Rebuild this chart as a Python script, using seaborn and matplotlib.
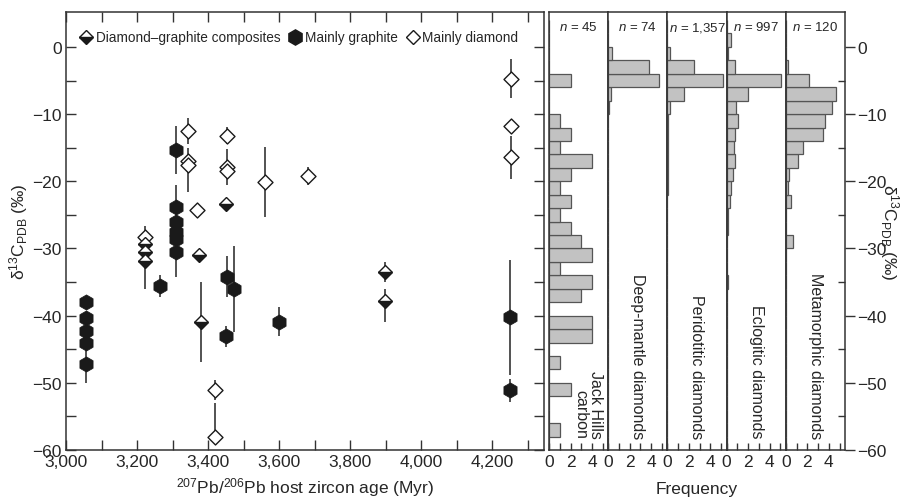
import numpy as np
import pandas as pd
import matplotlib
matplotlib.use('Agg')
import matplotlib.pyplot as plt
import seaborn as sns
from matplotlib.lines import Line2D

# --- scatter data: age (Myr), delta13C (permil), error bar ends (nan = none)
gr_age = [3056, 3056, 3056, 3056, 3056, 3265, 3310, 3310, 3310, 3310, 3310, 3310,
          3453, 3474, 3451, 3598, 4249, 4249]
gr_val = [-37.9, -40.4, -42.3, -44.0, -47.2, -35.6, -15.3, -23.9, -26.1, -27.6, -28.6, -30.6,
          -34.3, -36.0, -43.0, -40.9, -40.2, -51.1]
gr_lo = [np.nan, np.nan, np.nan, np.nan, -50.1, -37.2, -18.9, -26.0, np.nan, np.nan, np.nan, -34.3,
         -37.2, -42.4, -44.6, -43.0, -48.8, -52.9]
gr_hi = [np.nan, np.nan, np.nan, np.nan, -45.0, -33.9, -11.7, -20.5, np.nan, np.nan, np.nan, -28.0,
         -31.1, -29.6, -41.5, -38.7, -31.7, -49.4]

dm_age = [3223, 3343, 3343, 3343, 3370, 3453, 3453, 3453, 3559, 3680, 3420, 3420, 4251, 4251, 4251]
dm_val = [-28.3, -12.5, -17.0, -17.6, -24.2, -13.2, -17.9, -18.4, -20.1, -19.2, -51.0, -58.1,
          -4.8, -11.7, -16.4]
dm_lo = [np.nan, -14.5, np.nan, -21.6, np.nan, -14.5, np.nan, -20.6, -25.3, -20.6, -52.5, -58.1,
         -7.6, np.nan, -19.6]
dm_hi = [np.nan, -10.6, np.nan, -15.0, np.nan, -11.9, np.nan, -15.2, -14.9, -17.9, -49.6, -53.0,
         -1.8, np.nan, -13.2]

cp_age = [3223, 3223, 3223, 3375, 3380, 3450, 3897, 3897]
cp_val = [-29.3, -30.5, -31.8, -31.0, -41.0, -23.4, -33.5, -37.8]
cp_lo = [np.nan, np.nan, -36.0, np.nan, -46.9, np.nan, -35.0, -40.9]
cp_hi = [np.nan, np.nan, -26.6, np.nan, -35.0, np.nan, -32.0, -36.0]

# --- histograms: bin centres (2 permil bins) and frequencies
jh_bins = [-5, -11, -13, -15, -17, -19, -21, -23, -25, -27, -29, -31, -33, -35, -37, -41, -43, -47, -51, -57]
jh_freq = [2, 1, 2, 1, 4, 2, 1, 2, 1, 2, 3, 4, 1, 4, 3, 4, 4, 1, 2, 1]
deep_bins = [-1, -3, -5, -7, -9]
deep_freq = [0.37, 3.75, 4.76, 0.28, 0.12]
peri_bins = [-1, -3, -5, -7, -9, -11, -13, -15, -17, -19, -21]
peri_freq = [0.2, 2.46, 5.15, 1.54, 0.2, 0.06, 0.06, 0.08, 0.1, 0.06, 0.04]
eclo_bins = [1, -1, -3, -5, -7, -9, -11, -13, -15, -17, -19, -21, -23, -25, -27, -29, -31, -33, -35]
eclo_freq = [0.43, 0.1, 0.77, 5.1, 2.0, 0.86, 1.1, 0.77, 0.7, 0.77, 0.55, 0.37, 0.28, 0.15, 0.1,
             0.06, 0.05, 0.05, 0.1]
meta_bins = [-3, -5, -7, -9, -11, -13, -15, -17, -19, -21, -23, -29]
meta_freq = [0.25, 2.2, 4.7, 4.3, 3.6, 3.5, 1.6, 1.1, 0.3, 0.2, 0.5, 0.68]

panel_n = ['45', '74', '1,357', '997', '120']
panel_names = ['Jack Hills\ncarbon', 'Deep-mantle diamonds', 'Peridotitic diamonds',
               'Eclogitic diamonds', 'Metamorphic diamonds']

sns.set_theme(style='ticks')
plt.rcParams['font.family'] = ['Liberation Sans', 'DejaVu Sans']
plt.rcParams['mathtext.fontset'] = 'custom'
plt.rcParams['mathtext.rm'] = 'Liberation Sans'
plt.rcParams['mathtext.it'] = 'Liberation Sans:italic'
plt.rcParams['axes.edgecolor'] = '#333333'
plt.rcParams['axes.linewidth'] = 1.1

W, H = 901, 502
fig = plt.figure(figsize=(W / 100, H / 100), dpi=100)
bottom = 1 - 451 / H
height = 438 / H
ylim = (-60, 5.2)
ink = '#1a1a1a'

ax = fig.add_axes([66 / W, bottom, 478 / W, height])

for age, lo, hi in [(gr_age, gr_lo, gr_hi), (dm_age, dm_lo, dm_hi), (cp_age, cp_lo, cp_hi)]:
    a = np.array(age, float)
    l = np.array(lo, float)
    h = np.array(hi, float)
    ok = ~np.isnan(l)
    ax.vlines(a[ok], l[ok], h[ok], color='#444444', lw=1.3, zorder=1)

sns.scatterplot(x=gr_age, y=gr_val, marker='h', s=120, color=ink, edgecolor=ink,
                linewidth=0.5, ax=ax, zorder=3, legend=False)
sns.scatterplot(x=dm_age, y=dm_val, marker='D', s=58, facecolor='white', edgecolor=ink,
                linewidth=1.0, ax=ax, zorder=3, legend=False)
ax.plot(cp_age, cp_val, ls='none', marker='D', markersize=7.6, fillstyle='bottom',
        markerfacecolor=ink, markerfacecoloralt='white', markeredgecolor=ink,
        markeredgewidth=1.0, zorder=4)

ax.set_xlim(3000, 4345)
ax.set_ylim(*ylim)
xt = np.arange(3000, 4201, 200)
ax.set_xticks(xt)
ax.set_xticklabels([f'{v:,}' for v in xt])
ax.set_xticks(np.arange(3100, 4345, 200), minor=True)
ax.set_yticks(np.arange(-60, 1, 10))
ax.set_yticks(np.arange(-55, 5, 10), minor=True)
ax.tick_params(which='both', direction='in', top=True, right=True, length=7, width=1.0,
               labelsize=12.5, color='#333333', pad=3)
ax.set_xlabel(r'$^{207}$Pb/$^{206}$Pb host zircon age (Myr)', fontsize=12.5, labelpad=4)
ax.set_ylabel(r'δ$^{13}$C$_{\mathrm{PDB}}$ (‰)', fontsize=12.5, labelpad=2)

handles = [
    Line2D([], [], ls='none', marker='D', markersize=7.6, fillstyle='bottom',
           markerfacecolor=ink, markerfacecoloralt='white', markeredgecolor=ink,
           markeredgewidth=1.0),
    Line2D([], [], ls='none', marker='h', markersize=11, color=ink),
    Line2D([], [], ls='none', marker='D', markersize=7.6, markerfacecolor='white',
           markeredgecolor=ink, markeredgewidth=1.0),
]
ax.legend(handles, ['Diamond–graphite composites', 'Mainly graphite', 'Mainly diamond'],
          loc='upper left', bbox_to_anchor=(0.005, 0.98), ncol=3, frameon=False,
          fontsize=9.8, handletextpad=0.1, columnspacing=0.5, handlelength=1.2,
          borderaxespad=0.3)

hist_data = [(jh_bins, jh_freq), (deep_bins, deep_freq), (peri_bins, peri_freq),
             (eclo_bins, eclo_freq), (meta_bins, meta_freq)]
pw = 59.2
for i, (centres, freq) in enumerate(hist_data):
    hax = fig.add_axes([(549 + pw * i) / W, bottom, pw / W, height])
    df = pd.DataFrame({'d13c': centres, 'freq': freq})
    sns.histplot(data=df, y='d13c', weights='freq', binwidth=2, binrange=(-60, 4), ax=hax,
                 color='#c2c2c2', edgecolor='#555555', linewidth=0.9, alpha=1)
    hax.set_xlim(0, 5.5)
    hax.set_ylim(*ylim)
    hax.set_xlabel('')
    hax.set_ylabel('')
    hax.set_xticks([0, 2, 4])
    hax.set_xticks([1, 3, 5], minor=True)
    hax.tick_params(axis='x', which='both', direction='in', length=5, width=1.0,
                    labelsize=12.5, top=False, pad=3, color='#333333')
    hax.tick_params(axis='y', which='both', left=False, labelleft=False)
    hax.text(2.75, 3.0, r'$n$ = ' + panel_n[i], ha='center', va='center', fontsize=9.5)
    if i == 0:
        hax.text(3.65, -58.2, panel_names[i], rotation=270, ha='center', va='bottom',
                 multialignment='right', fontsize=11.5, linespacing=0.95)
    else:
        hax.text(2.75, -58.2, panel_names[i], rotation=270, ha='center', va='bottom',
                 fontsize=11.5)
    if i == 4:
        hax.yaxis.set_label_position('right')
        hax.set_yticks(np.arange(-60, 1, 10))
        hax.set_yticks(np.arange(-55, 5, 10), minor=True)
        hax.tick_params(axis='y', which='major', right=True, labelright=True, direction='out',
                        length=7, width=1.0, labelsize=12.5, pad=2, color='#333333')
        hax.tick_params(axis='y', which='minor', right=True, direction='in', length=5,
                        width=1.0, color='#333333')
        hax.set_ylabel(r'δ$^{13}$C$_{\mathrm{PDB}}$ (‰)', fontsize=12.5, rotation=270,
                       labelpad=10)

fig.text(697 / W, 1 - 490 / H, 'Frequency', ha='center', va='center', fontsize=12.5)

fig.savefig('out.png', dpi=100)
